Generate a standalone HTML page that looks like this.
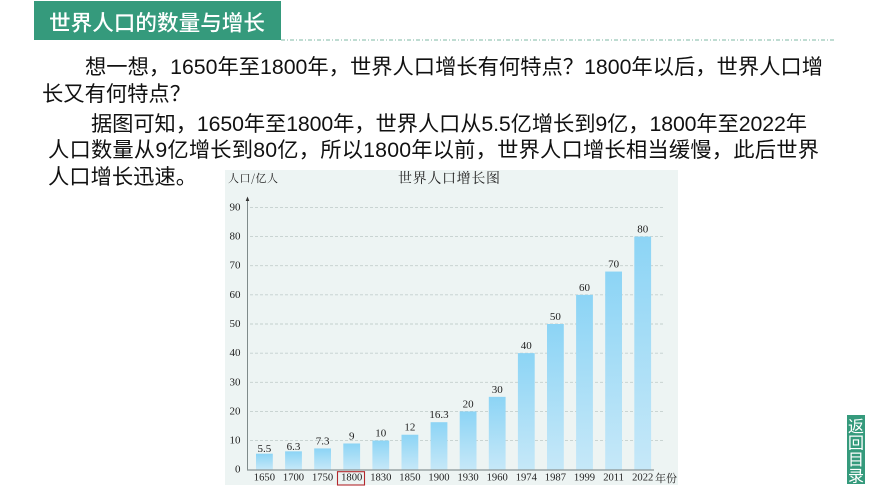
<!DOCTYPE html>
<html lang="zh">
<head>
<meta charset="utf-8">
<title>世界人口的数量与增长</title>
<style>
html,body{margin:0;padding:0;background:#fff;}
#stage{display:block;width:870px;height:489px;text-spacing-trim:space-all;}
.body-line{font-family:"Liberation Sans","WenQuanYi Zen Hei","Noto Sans CJK SC",sans-serif;font-size:21.3px;fill:#111;dominant-baseline:central;}
.serif{font-family:"Liberation Serif","Noto Serif CJK SC",serif;fill:#222;}
</style>
</head>
<body>
<svg id="stage" xmlns="http://www.w3.org/2000/svg" width="870" height="489" viewBox="0 0 870 489">
  <defs>
    <linearGradient id="barFill" x1="0" y1="0" x2="0" y2="1">
      <stop offset="0" stop-color="#8cd4f5"/>
      <stop offset="1" stop-color="#c6e8f8"/>
    </linearGradient>
  </defs>
  <rect x="34" y="1" width="247" height="39" fill="#359a7c"/>
  <text x="49" y="22" textLength="216" lengthAdjust="spacing" fill="#fff" dominant-baseline="central" style="font-family:'Noto Sans CJK SC',sans-serif;font-size:21.6px;font-weight:500;">世界人口的数量与增长</text>
  <line x1="281" y1="40" x2="834" y2="40" stroke="#7fb9a6" stroke-width="1" stroke-dasharray="4 2 1 2"/>

  <text class="body-line" x="85" y="67" textLength="738" lengthAdjust="spacing">想一想，1650年至1800年，世界人口增长有何特点？1800年以后，世界人口增</text>
  <text class="body-line" x="42" y="94" textLength="149" lengthAdjust="spacing">长又有何特点？</text>
  <text class="body-line" x="91" y="124" textLength="716" lengthAdjust="spacing">据图可知，1650年至1800年，世界人口从5.5亿增长到9亿，1800年至2022年</text>
  <text class="body-line" x="48" y="150" textLength="771" lengthAdjust="spacing">人口数量从9亿增长到80亿，所以1800年以前，世界人口增长相当缓慢，此后世界</text>
  <text class="body-line" x="48" y="177" textLength="149" lengthAdjust="spacing">人口增长迅速。</text>

  <g id="chart">
    <rect x="225" y="170" width="453" height="315" fill="#edf4f3"/>
    <text class="serif" x="398" y="178" dominant-baseline="central" textLength="102" lengthAdjust="spacing" style="font-family:'Noto Serif CJK SC',serif;font-size:14px;">世界人口增长图</text>
    <text class="serif" x="228" y="178" dominant-baseline="central" textLength="50" lengthAdjust="spacing" style="font-family:'Noto Serif CJK SC',serif;font-size:11px;">人口/亿人</text>
    <text class="serif" x="655" y="478" dominant-baseline="central" textLength="22" lengthAdjust="spacing" style="font-family:'Noto Serif CJK SC',serif;font-size:11px;">年份</text>
    <g id="grid"></g>
    <g id="bars"></g>
    <g id="labels"></g>
    <g id="ticks"></g>
    <line x1="247.5" y1="199" x2="247.5" y2="470" stroke="#7f8a8a" stroke-width="1"/>
    <polygon points="247.5,196.5 245.7,201 249.3,201" fill="#333"/>
    <line x1="247" y1="470" x2="654" y2="470" stroke="#8a9494" stroke-width="1.2"/>
    <rect x="337.5" y="471.7" width="27" height="13.3" fill="none" stroke="#b3282d" stroke-width="1.1"/>
  </g>

  <rect x="847" y="415" width="18" height="69" fill="#359a7c"/>
  <text x="856" y="425" fill="#fff" text-anchor="middle" dominant-baseline="central" style="font-family:'Noto Sans CJK SC',sans-serif;font-size:16px;">返</text>
  <text x="856" y="441.5" fill="#fff" text-anchor="middle" dominant-baseline="central" style="font-family:'Noto Sans CJK SC',sans-serif;font-size:16px;">回</text>
  <text x="856" y="458" fill="#fff" text-anchor="middle" dominant-baseline="central" style="font-family:'Noto Sans CJK SC',sans-serif;font-size:16px;">目</text>
  <text x="856" y="474.5" fill="#fff" text-anchor="middle" dominant-baseline="central" style="font-family:'Noto Sans CJK SC',sans-serif;font-size:16px;">录</text>
</svg>
<script>
const years = ['1650','1700','1750','1800','1830','1850','1900','1930','1960','1974','1987','1999','2011','2022'];
const barValues = [5.5,6.3,7.3,9,10,12,16.3,20,25,40,50,60,68,80];
const printedValues = ['5.5','6.3','7.3','9','10','12','16.3','20','30','40','50','60','70','80'];
const yTicks = [0,10,20,30,40,50,60,70,80,90];

const NS = 'http://www.w3.org/2000/svg';
const yScale = v => 469.7 - v * 2.914;
const bandLeft = i => 256 + i * 29.1;
const barWidth = 16.8;
const valueGap = i => (i < 2 ? 4.5 : 7);
const gridEl = document.getElementById('grid');
const barsEl = document.getElementById('bars');
const labelsEl = document.getElementById('labels');
const ticksEl = document.getElementById('ticks');

function make(tag, parent, attrs, text) {
  const el = document.createElementNS(NS, tag);
  for (const k in attrs) el.setAttribute(k, attrs[k]);
  if (text !== undefined) el.textContent = text;
  parent.appendChild(el);
  return el;
}

yTicks.forEach(t => {
  const y = yScale(t);
  if (t > 0) {
    const g = make('line', gridEl, {x1: 250, y1: y, x2: 664, y2: y, stroke: '#c4cfcd', 'stroke-width': 0.9, 'stroke-dasharray': '3 2'});
    
    
  }
  const lab = make('text', ticksEl, {class: 'serif', x: 240.5, y: y, 'text-anchor': 'end', 'dominant-baseline': 'central', 'font-size': 11}, String(t));
  
  
});

years.forEach((yr, i) => {
  const top = yScale(barValues[i]);
  const cx = bandLeft(i) + barWidth / 2;
  const bar = make('rect', barsEl, {x: bandLeft(i), y: top, width: barWidth, height: yScale(0) - top, fill: 'url(#barFill)'});
  
  
  const val = make('text', labelsEl, {class: 'serif', x: cx, y: top - valueGap(i), 'text-anchor': 'middle', 'dominant-baseline': 'central', 'font-size': 11}, printedValues[i]);
  
  
  const tick = make('text', ticksEl, {class: 'serif', x: cx, y: 478, 'text-anchor': 'middle', 'dominant-baseline': 'central', 'font-size': 10.6}, yr);
  
  
});
</script>
</body>
</html>
